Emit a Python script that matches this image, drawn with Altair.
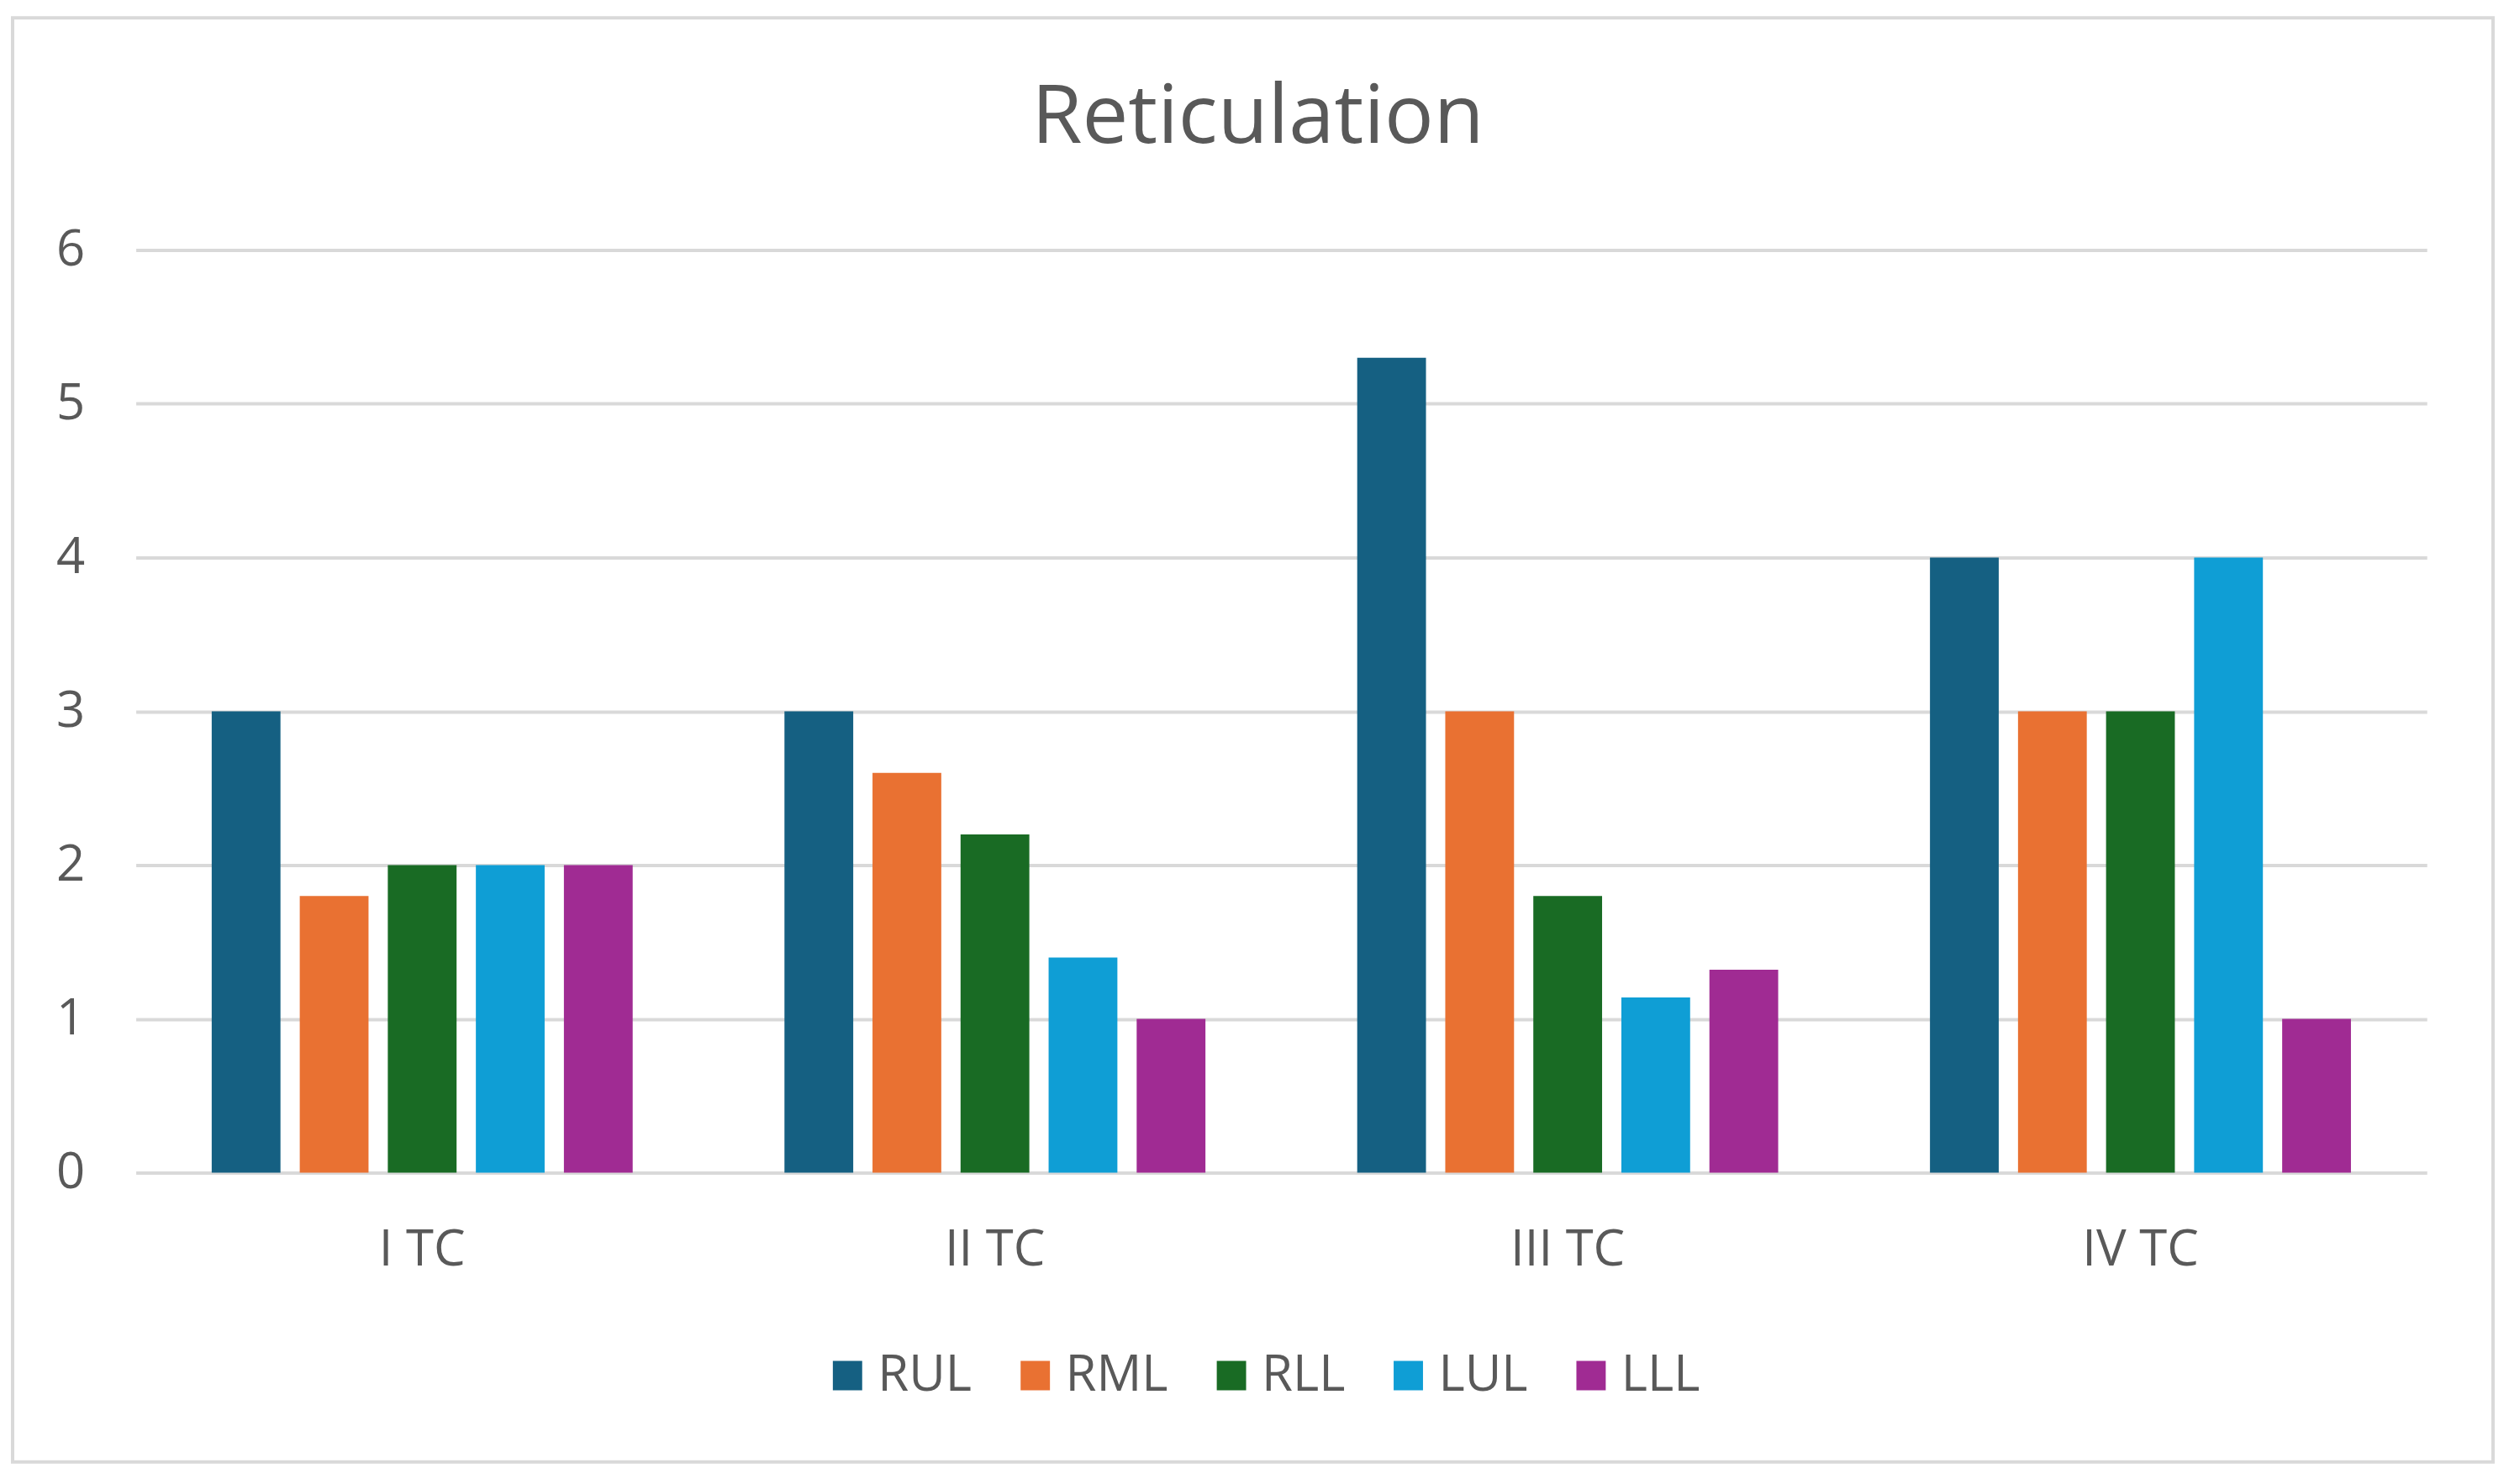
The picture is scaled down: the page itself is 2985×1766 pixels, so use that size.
import altair as alt
import pandas as pd

categories = ["I TC", "II TC", "III TC", "IV TC"]
series = ["RUL", "RML", "RLL", "LUL", "LLL"]
values = {
    "RUL": [3.0, 3.0, 5.3, 4.0],
    "RML": [1.8, 2.6, 3.0, 3.0],
    "RLL": [2.0, 2.2, 1.8, 3.0],
    "LUL": [2.0, 1.4, 1.14, 4.0],
    "LLL": [2.0, 1.0, 1.32, 1.0],
}
colors = ["#156082", "#E97132", "#196B24", "#0F9ED5", "#A02B93"]
y_ticks = [0, 1, 2, 3, 4, 5, 6]

rows = []
for s in series:
    for c, v in zip(categories, values[s]):
        rows.append({"category": c, "series": s, "value": v})
df = pd.DataFrame(rows)

FONT = "Open Sans"
GREY = "#595959"

bars = alt.Chart(df).mark_bar().encode(
    x=alt.X("category:N", sort=categories,
            scale=alt.Scale(paddingInner=0.265, paddingOuter=0.1325),
            axis=alt.Axis(title=None, labelAngle=0, ticks=False, domain=False,
                          labelFontSize=60, labelColor=GREY, labelFont=FONT,
                          labelPadding=63, grid=False)),
    xOffset=alt.XOffset("series:N", sort=series,
                        scale=alt.Scale(paddingInner=0.219, paddingOuter=0)),
    y=alt.Y("value:Q", scale=alt.Scale(domain=[0, 6], nice=False),
            axis=alt.Axis(title=None, values=y_ticks, ticks=False, domain=False,
                          labelFontSize=60, labelColor=GREY, labelFont=FONT,
                          labelPadding=61, gridColor="#D9D9D9", gridWidth=4)),
    color=alt.Color("series:N", sort=series,
                    scale=alt.Scale(domain=series, range=colors),
                    legend=alt.Legend(title=None, orient="none", direction="horizontal",
                                      legendX=819, legendY=1313,
                                      symbolType="square", symbolSize=1225,
                                      symbolStrokeWidth=0,
                                      labelFontSize=60, labelFont=FONT, labelColor=GREY,
                                      labelOffset=6, columnPadding=45)),
)

frame = alt.Chart(pd.DataFrame({"k": [0]})).mark_rect(
    fillOpacity=0, stroke="#D9D9D9", strokeWidth=4, clip=False
).encode(
    x=alt.value(-147), x2=alt.value(2812), y=alt.value(-277), y2=alt.value(1446)
)

chart = alt.layer(frame, bars).properties(
    width=2733,
    height=1101,
    background="white",
    padding={"left": 154, "top": 288, "right": 90, "bottom": 353},
    autosize=alt.AutoSizeParams(type="none"),
    title=alt.TitleParams("Reticulation", fontSize=98, font=FONT, color=GREY,
                          fontWeight="normal", anchor="middle", frame="group",
                          baseline="alphabetic", offset=-249, dx=-28),
).configure_view(strokeWidth=0, stroke="transparent")

chart.save("out.html", embed_options={"renderer": "svg", "actions": False})
